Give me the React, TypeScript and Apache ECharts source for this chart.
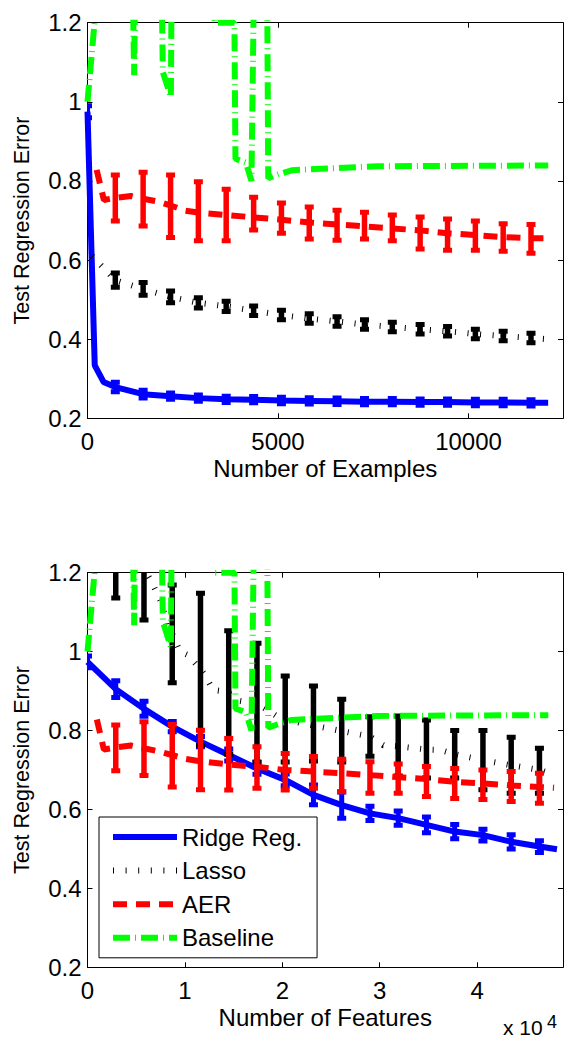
import React, { useEffect, useRef } from 'react';
import * as echarts from 'echarts';

const FONT = '"Liberation Sans", Arial, Helvetica, sans-serif';
const BLUE = '#0000ff';
const BLACK = '#000000';
const RED = '#ff0000';
const GREEN = '#00ff00';

// ---------- Top panel: Number of Examples ----------
const topXMax = 12480;
const topMarkX = [730, 1460, 2180, 2910, 3640, 4360, 5090, 5820, 6550, 7270, 8000, 8730, 9450, 10180, 10910, 11640];

const topRidgeX = [0, 190, 420, 730, 1460, 2180, 2910, 3640, 4360, 5090, 5820, 6550, 7270, 8000, 8730, 9450, 10180, 10910, 11640, 12090];
const topRidgeY = [0.975, 0.334, 0.292, 0.279, 0.261, 0.256, 0.251, 0.248, 0.247, 0.245, 0.244, 0.243, 0.242, 0.242, 0.241, 0.241, 0.24, 0.24, 0.239, 0.239];
const topRidgeBarX = [0, 730, 1460, 2180, 2910, 3640, 4360, 5090, 5820, 6550, 7270, 8000, 8730, 9450, 10180, 10910, 11640];
const topRidgeLo = [0.96, 0.267, 0.251, 0.248, 0.243, 0.24, 0.239, 0.237, 0.236, 0.235, 0.234, 0.234, 0.233, 0.233, 0.232, 0.232, 0.231];
const topRidgeHi = [0.99, 0.291, 0.271, 0.264, 0.259, 0.256, 0.255, 0.253, 0.252, 0.251, 0.25, 0.25, 0.249, 0.249, 0.248, 0.248, 0.247];

const topLassoX = [120, 420, 730, 1460, 2180, 2910, 3640, 4360, 5090, 5820, 6550, 7270, 8000, 8730, 9450, 10180, 10910, 11640, 12090];
const topLassoY = [0.61, 0.58, 0.549, 0.527, 0.507, 0.492, 0.483, 0.472, 0.461, 0.452, 0.445, 0.437, 0.431, 0.425, 0.42, 0.413, 0.408, 0.403, 0.4];
const topLassoLo = [0.531, 0.511, 0.492, 0.479, 0.47, 0.46, 0.449, 0.44, 0.433, 0.425, 0.419, 0.413, 0.408, 0.401, 0.396, 0.391];
const topLassoHi = [0.567, 0.543, 0.522, 0.505, 0.496, 0.484, 0.473, 0.464, 0.457, 0.449, 0.443, 0.437, 0.432, 0.425, 0.42, 0.415];

const topAerX = [240, 430, 730, 1140, 1460, 1850, 2180, 2560, 2910, 3640, 4360, 5090, 5820, 6550, 7270, 8000, 8730, 9450, 10180, 10910, 11640, 12010];
const topAerY = [0.828, 0.752, 0.757, 0.762, 0.755, 0.748, 0.738, 0.725, 0.72, 0.714, 0.708, 0.702, 0.695, 0.69, 0.685, 0.68, 0.675, 0.668, 0.663, 0.658, 0.655, 0.655];
const topAerLo = [0.699, 0.686, 0.657, 0.649, 0.649, 0.676, 0.668, 0.653, 0.65, 0.653, 0.649, 0.628, 0.625, 0.625, 0.622, 0.617];
const topAerHi = [0.815, 0.822, 0.815, 0.798, 0.779, 0.759, 0.744, 0.734, 0.726, 0.721, 0.714, 0.709, 0.704, 0.699, 0.692, 0.69];

const topBaseX = [0, 323, 1137, 1224, 1282, 1899, 1978, 2188, 2228, 2950, 3344, 3856, 3883, 4159, 4303, 4408, 4697, 4744, 5052, 5359, 5971, 7600, 9518, 12092];
const topBaseY = [1.0, 1.35, 1.6, 1.067, 1.6, 1.6, 1.075, 1.012, 1.6, 1.6, 1.2, 1.2, 0.856, 0.846, 0.8, 1.6, 1.6, 0.807, 0.818, 0.827, 0.83, 0.837, 0.838, 0.839];

// ---------- Bottom panel: Number of Features ----------
const botXMax = 48820;
const botMarkX = [2900, 5800, 8700, 11600, 14500, 17400, 20300, 23200, 26100, 29000, 31900, 34800, 37700, 40600, 43500, 46400];

const botRidgeX = [0, 2900, 5800, 8700, 11600, 14500, 17400, 20300, 23200, 26100, 29000, 31900, 34800, 37700, 40600, 43500, 46400, 48200];
const botRidgeY = [0.974, 0.905, 0.855, 0.81, 0.772, 0.738, 0.704, 0.675, 0.637, 0.611, 0.59, 0.578, 0.561, 0.544, 0.535, 0.518, 0.506, 0.499];
const botRidgeBarX = [0, 2900, 5800, 8700, 11600, 14500, 17400, 20300, 23200, 26100, 29000, 31900, 34800, 37700, 40600, 43500, 46400];
const botRidgeLo = [0.959, 0.884, 0.836, 0.797, 0.759, 0.723, 0.689, 0.66, 0.612, 0.578, 0.572, 0.56, 0.541, 0.526, 0.52, 0.5, 0.491];
const botRidgeHi = [0.989, 0.926, 0.874, 0.823, 0.785, 0.753, 0.719, 0.69, 0.662, 0.644, 0.608, 0.596, 0.581, 0.562, 0.55, 0.536, 0.521];

const botLassoX = [0, 2900, 5800, 6580, 7770, 8120, 8700, 9490, 10340, 11600, 12060, 12880, 14320, 15660, 17400, 18230, 19770, 22130, 24590, 27270, 29000, 30370, 31900, 34800, 36210, 37700, 40600, 43500, 46400, 47510];
const botLassoY = [1.6, 1.3, 1.21, 1.177, 1.114, 1.067, 1.045, 1.0, 0.991, 0.955, 0.941, 0.903, 0.898, 0.875, 0.868, 0.856, 0.831, 0.818, 0.806, 0.793, 0.785, 0.763, 0.76, 0.752, 0.751, 0.74, 0.725, 0.712, 0.7, 0.692];
const botLassoLo = [1.136, 1.08, 0.921, 0.762, 0.74, 0.72, 0.72, 0.723, 0.72, 0.735, 0.685, 0.68, 0.68, 0.65, 0.641, 0.641];
const botLassoHi = [1.46, 1.34, 1.169, 1.148, 1.053, 1.021, 0.938, 0.913, 0.879, 0.835, 0.837, 0.827, 0.8, 0.8, 0.783, 0.755];

const botAerX = [960, 1680, 2900, 4450, 5800, 7200, 8700, 10100, 11600, 14500, 17400, 20300, 23200, 26100, 29000, 31900, 34800, 37700, 40600, 43500, 46400, 47900];
const botAerY = [0.828, 0.752, 0.757, 0.762, 0.755, 0.748, 0.738, 0.728, 0.722, 0.714, 0.708, 0.7, 0.696, 0.692, 0.687, 0.682, 0.677, 0.67, 0.666, 0.661, 0.657, 0.655];
const botAerLo = [0.698, 0.686, 0.657, 0.65, 0.649, 0.654, 0.649, 0.654, 0.645, 0.641, 0.641, 0.633, 0.628, 0.625, 0.62, 0.616];
const botAerHi = [0.814, 0.822, 0.815, 0.801, 0.78, 0.759, 0.742, 0.734, 0.727, 0.721, 0.715, 0.709, 0.704, 0.7, 0.696, 0.692];

const botBaseX = [0, 1264, 4450, 4790, 5016, 7431, 7739, 8561, 8716, 11542, 13084, 15088, 15191, 16270, 16835, 17246, 18377, 18562, 19765, 20967, 23362, 29734, 37237, 47310];
const botBaseY = [1.0, 1.35, 1.6, 1.067, 1.6, 1.6, 1.075, 1.012, 1.6, 1.6, 1.2, 1.2, 0.856, 0.846, 0.8, 1.6, 1.6, 0.807, 0.818, 0.827, 0.83, 0.837, 0.838, 0.839];

// ---------- labels ----------
const seriesNames = ['Ridge Reg.', 'Lasso', 'AER', 'Baseline'];
const yTitle = 'Test Regression Error';
const topXTitle = 'Number of Examples';
const botXTitle = 'Number of Features';

const STYLES: Record<string, { color: string; width: number; dash: number[] | 'solid'; stem: number }> = {
  'Ridge Reg.': { color: BLUE, width: 6, dash: 'solid', stem: 5 },
  Lasso: { color: BLACK, width: 6, dash: [1, 11.6], stem: 5.5 },
  AER: { color: RED, width: 6, dash: [14, 9], stem: 5.5 },
  Baseline: { color: GREEN, width: 6, dash: [17, 5, 1, 5], stem: 5 },
};

const zip = (xs: number[], ys: number[]) => xs.map((x, i) => [x, ys[i]]);
const zip3 = (xs: number[], lo: number[], hi: number[]) => xs.map((x, i) => [x, lo[i], hi[i]]);

function errorBarRender(color: string, stem: number) {
  return (_params: any, api: any) => {
    const x = api.value(0);
    const lo = api.coord([x, api.value(1)]);
    const hi = api.coord([x, api.value(2)]);
    const cap = 4.5;
    return {
      type: 'group',
      children: [
        { type: 'line', shape: { x1: lo[0], y1: lo[1], x2: hi[0], y2: hi[1] }, style: { stroke: color, lineWidth: stem } },
        { type: 'line', shape: { x1: lo[0] - cap, y1: lo[1], x2: lo[0] + cap, y2: lo[1] }, style: { stroke: color, lineWidth: 5 } },
        { type: 'line', shape: { x1: hi[0] - cap, y1: hi[1], x2: hi[0] + cap, y2: hi[1] }, style: { stroke: color, lineWidth: 5 } },
      ],
    };
  };
}

function lineSeries(name: string, data: number[][], axis: number, z: number) {
  const s = STYLES[name];
  return {
    type: 'line',
    name,
    data,
    xAxisIndex: axis,
    yAxisIndex: axis,
    symbol: 'none',
    showSymbol: false,
    clip: true,
    silent: true,
    z,
    lineStyle: { color: s.color, width: s.width, type: s.dash, cap: 'butt' },
    itemStyle: { color: s.color },
  };
}

function barSeries(name: string, data: number[][], axis: number, z: number) {
  const s = STYLES[name];
  return {
    type: 'custom',
    name,
    data,
    xAxisIndex: axis,
    yAxisIndex: axis,
    clip: true,
    silent: true,
    z,
    encode: { x: 0, y: [1, 2] },
    itemStyle: { color: s.color },
    renderItem: errorBarRender(s.color, s.stem),
  };
}

const axisLine = { show: true, onZero: false, lineStyle: { color: '#000', width: 1 } };
const axisTick = { show: true, inside: true, length: 5, lineStyle: { color: '#000', width: 1 } };

function xAxes(gridIndex: number, max: number, interval: number, name: string, fmt: (v: number) => string) {
  const common = { gridIndex, type: 'value', min: 0, max, interval, splitLine: { show: false }, axisLine, axisTick };
  return [
    {
      ...common,
      position: 'bottom',
      axisLabel: { show: true, margin: 11, fontFamily: FONT, fontSize: 24, color: '#000', showMaxLabel: false, formatter: fmt },
      name,
      nameLocation: 'middle',
      nameGap: 38,
      nameTextStyle: { fontFamily: FONT, fontSize: 24, color: '#000' },
    },
    { ...common, position: 'top', axisLabel: { show: false } },
  ];
}

function yAxes(gridIndex: number) {
  const common = { gridIndex, type: 'value', min: 0.2, max: 1.2, interval: 0.2, splitLine: { show: false }, axisLine, axisTick };
  return [
    {
      ...common,
      position: 'left',
      axisLabel: {
        show: true, margin: 6, fontFamily: FONT, fontSize: 24, color: '#000',
        formatter: (v: number) => String(Math.round(v * 10) / 10),
      },
      name: yTitle,
      nameLocation: 'middle',
      nameGap: 55,
      nameTextStyle: { fontFamily: FONT, fontSize: 21.5, color: '#000' },
    },
    { ...common, position: 'right', axisLabel: { show: false } },
  ];
}

export default function App() {
  const ref = useRef<HTMLDivElement>(null);
  useEffect(() => {
    if (!ref.current) return;
    const chart = echarts.init(ref.current, undefined, { renderer: 'svg' });
    const option: any = {
      animation: false,
      backgroundColor: '#ffffff',
      grid: [
        { left: 87.5, top: 22.7, width: 475.5, height: 395.6, outerBoundsMode: 'none', containLabel: false },
        { left: 87.5, top: 572.7, width: 475.5, height: 394.6, outerBoundsMode: 'none', containLabel: false },
      ],
      xAxis: [
        ...xAxes(0, topXMax, 5000, topXTitle, (v: number) => String(v)),
        ...xAxes(1, botXMax, 10000, botXTitle, (v: number) => String(v / 10000)),
      ],
      yAxis: [...yAxes(0), ...yAxes(1)],
      legend: {
        orient: 'vertical',
        left: 99,
        top: 817,
        padding: [8, 15, 8, 11],
        itemWidth: 64,
        itemHeight: 14,
        itemGap: 9.6,
        backgroundColor: '#ffffff',
        borderColor: '#000',
        borderWidth: 1,
        borderRadius: 0,
        selectedMode: false,
        textStyle: { fontFamily: FONT, fontSize: 24, color: '#000', lineHeight: 22 },
        lineStyle: { width: 6 },
        data: seriesNames.map((n) => ({
          name: n,
          itemStyle: { opacity: 0 },
          lineStyle: { color: STYLES[n].color, width: 6, type: STYLES[n].dash, opacity: 1 },
        })),
        z: 20,
      },
      graphic: [
        { type: 'text', left: 503, top: 1017, z: 30, style: { text: 'x 10', fontFamily: FONT, fontSize: 21, lineHeight: 19, fill: '#000' } },
        { type: 'text', left: 547, top: 1013, z: 30, style: { text: '4', fontFamily: FONT, fontSize: 18, lineHeight: 16, fill: '#000' } },
      ],
      series: [
        // top panel
        lineSeries('Ridge Reg.', zip(topRidgeX, topRidgeY), 0, 2),
        lineSeries('Lasso', zip(topLassoX, topLassoY), 0, 3),
        lineSeries('AER', zip(topAerX, topAerY), 0, 4),
        lineSeries('Baseline', zip(topBaseX, topBaseY), 0, 5),
        barSeries('Ridge Reg.', zip3(topRidgeBarX, topRidgeLo, topRidgeHi), 0, 2),
        barSeries('Lasso', zip3(topMarkX, topLassoLo, topLassoHi), 0, 3),
        barSeries('AER', zip3(topMarkX, topAerLo, topAerHi), 0, 4),
        // bottom panel
        lineSeries('Ridge Reg.', zip(botRidgeX, botRidgeY), 2, 2),
        lineSeries('Lasso', zip(botLassoX, botLassoY), 2, 3),
        lineSeries('AER', zip(botAerX, botAerY), 2, 4),
        lineSeries('Baseline', zip(botBaseX, botBaseY), 2, 5),
        barSeries('Ridge Reg.', zip3(botRidgeBarX, botRidgeLo, botRidgeHi), 2, 2),
        barSeries('Lasso', zip3(botMarkX, botLassoLo, botLassoHi), 2, 3),
        barSeries('AER', zip3(botMarkX, botAerLo, botAerHi), 2, 4),
      ],
    };
    chart.setOption(option);
    return () => chart.dispose();
  }, []);
  return (
    <div
      ref={ref}
      style={{ position: 'fixed', left: 0, top: 0, width: 564, height: 1038, background: '#fff' }}
    />
  );
}
